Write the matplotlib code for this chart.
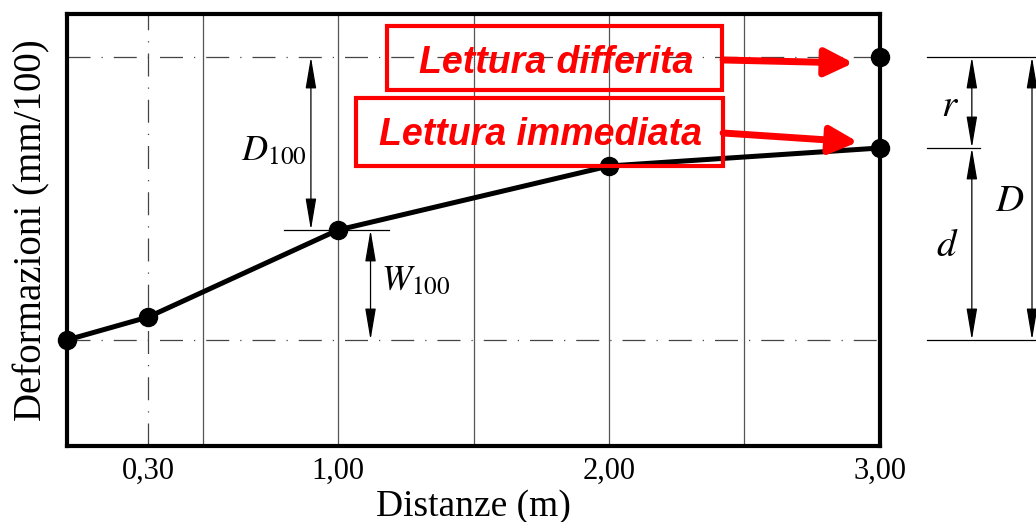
import matplotlib
matplotlib.use("Agg")
import matplotlib.pyplot as plt
from matplotlib.patches import Rectangle

plt.rcParams["font.family"] = ["Liberation Serif", "DejaVu Serif"]
plt.rcParams["mathtext.fontset"] = "stix"

# data (deflection, arbitrary units)
distances = [0.00, 0.30, 1.00, 2.00, 3.00]
lettura_immediata = [106, 129, 216, 280, 298]
differita_x = [3.00]
lettura_differita = [389]

tick_pos = [0.30, 1.00, 2.00, 3.00]
tick_labels = ["0,30", "1,00", "2,00", "3,00"]
grid_x = [0.5, 1.0, 1.5, 2.0, 2.5]

DASHDOT = (0, (18.4, 8.8, 1, 8.8))

fig = plt.figure(figsize = (10.36, 5.22), dpi = 100)
ax = fig.add_axes([0.0647, 0.1456, 0.7847, 0.8276])
ax.set_xlim(0, 3)
ax.set_ylim(0, 432)

# grid
for gx in grid_x:
    ax.axvline(gx, color = "#555555", lw = 0.9, zorder = 1)
ax.axvline(0.30, color = "#444444", lw = 0.9, ls = DASHDOT, zorder = 1)
d0 = lettura_immediata[0]
dmax = lettura_differita[0]
for yy in (d0, dmax):
    ax.axhline(yy, color = "#444444", lw = 0.9, ls = DASHDOT, zorder = 1)

# curve
ax.plot(distances, lettura_immediata, color = "black", lw = 3.6, marker = "o",
        ms = 13, clip_on = False, zorder = 5)
ax.plot(differita_x, lettura_differita, color = "black", marker = "o", ms = 13,
        clip_on = False, zorder = 5)

# dimension arrows inside plot
dim = dict(arrowstyle = "<|-|>,head_length=1.3,head_width=0.22", mutation_scale = 15,
           color = "black", lw = 0.9, shrinkA = 0, shrinkB = 0)
y_mid = lettura_immediata[2]
ax.annotate("", xy = (0.90, dmax), xytext = (0.90, y_mid), arrowprops = dim)
ax.annotate("", xy = (1.12, y_mid), xytext = (1.12, d0), arrowprops = dim)
ax.plot([0.80, 1.19], [y_mid, y_mid], color = "black", lw = 0.9)
ax.text(0.885, 294, r"$D_{100}$", fontsize = 26, ha = "right", va = "center")
ax.text(1.16, 164, r"$W_{100}$", fontsize = 26, ha = "left", va = "center")

# dimension arrows on the right
y_imm = lettura_immediata[-1]
for yy, x1 in ((dmax, 3.576), (y_imm, 3.369), (d0, 3.576)):
    ax.plot([3.173, x1], [yy, yy], color = "black", lw = 0.9, clip_on = False)
for y1, y2, xx in ((dmax, y_imm, 3.339), (y_imm, d0, 3.339), (dmax, d0, 3.561)):
    ax.annotate("", xy = (xx, y1), xytext = (xx, y2), arrowprops = dim,
                annotation_clip = False)
ax.text(3.26, 339, r"$r$", fontsize = 28, ha = "center", va = "center")
ax.text(3.25, 199, r"$d$", fontsize = 28, ha = "center", va = "center")
ax.text(3.48, 244, r"$D$", fontsize = 28, ha = "center", va = "center")

# red callouts
ax.add_patch(Rectangle((1.181, 356), 1.236, 64, fill = False, ec = "red", lw = 3, zorder = 6))
ax.add_patch(Rectangle((1.066, 280), 1.354, 68, fill = False, ec = "red", lw = 3, zorder = 6))
ax.text(1.804, 373, "Lettura differita", color = "red", fontsize = 27, ha = "center",
        va = "baseline", family = "Liberation Sans", weight = "bold", style = "italic", zorder = 7)
ax.text(1.749, 301, "Lettura immediata", color = "red", fontsize = 27, ha = "center",
        va = "baseline", family = "Liberation Sans", weight = "bold", style = "italic", zorder = 7)
red = dict(arrowstyle = "-|>,head_length=0.85,head_width=0.42", mutation_scale = 20,
           color = "red", lw = 5, shrinkA = 0, shrinkB = 0)
ax.annotate("", xy = (2.902, 383), xytext = (2.421, 386), arrowprops = red, zorder = 7)
ax.annotate("", xy = (2.919, 304), xytext = (2.421, 313), arrowprops = red, zorder = 7)

# axes
ax.set_xticks(tick_pos)
ax.set_xticklabels(tick_labels, fontsize = 22)
ax.set_yticks([])
ax.tick_params(axis = "x", length = 0, pad = 8)
for s in ax.spines.values():
    s.set_linewidth(3)
ax.set_xlabel("Distanze (m)", fontsize = 27, labelpad = 2)
ax.set_ylabel("Deformazioni (mm/100)", fontsize = 28, labelpad = 12)

fig.savefig("out.png", dpi = 100)
plt.close(fig)
